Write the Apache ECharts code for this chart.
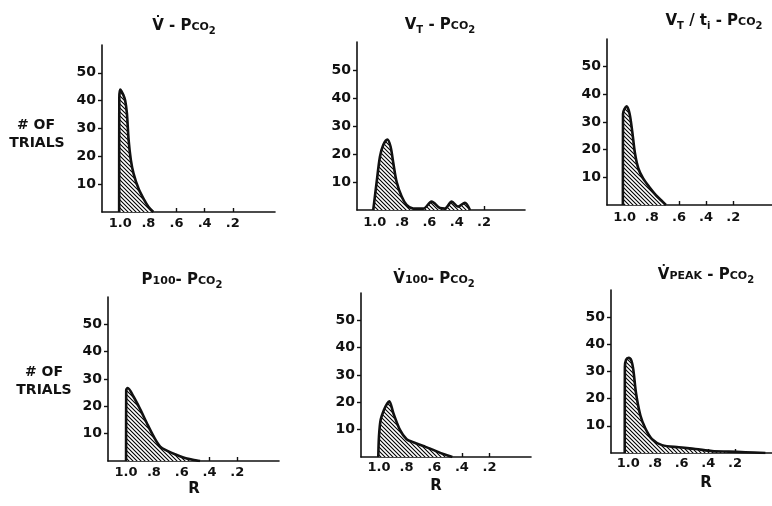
<!DOCTYPE html>
<html><head><meta charset="utf-8">
<script src="https://cdn.jsdelivr.net/npm/echarts@6/dist/echarts.min.js"></script>
<style>html,body{margin:0;padding:0;background:#fff}#c{width:772px;height:506px}</style>
</head><body><div id="c"></div>
<script>
// ---- data ----
const xTicks = [1.0, 0.8, 0.6, 0.4, 0.2];
const xTickLabels = ['1.0', '.8', '.6', '.4', '.2'];
const yTicks = [10, 20, 30, 40, 50];

// Panel titles (rich-text markup)
const titles = [
  '{a|V\u0307 - P}{s|CO}{u|2}',
  '{a|V}{u|T}{a| - P}{s|CO}{u|2}',
  '{a|V}{u|T}{a| / t}{u|i}{a| - P}{s|CO}{u|2}',
  '{a|P}{s|100}{a|- P}{s|CO}{u|2}',
  '{a|V\u0307}{s|100}{a|- P}{s|CO}{u|2}',
  '{a|V\u0307}{s|PEAK}{a| - P}{s|CO}{u|2}'
];
const yName = ['# OF', 'TRIALS'];
const xName = 'R';

// R values and # of trials for each panel
const r1 = [1.008, 1.007, 1.0, 0.993, 0.978, 0.965, 0.953, 0.941, 0.925, 0.906, 0.871, 0.836, 0.80, 0.765];
const n1 = [0, 41, 44, 43.5, 42, 40, 35.5, 26, 18.7, 13.9, 8.5, 4.9, 1.9, 0];

const r2 = [1.011, 0.986, 0.962, 0.938, 0.908, 0.884, 0.864, 0.84, 0.803, 0.767, 0.718, 0.645, 0.584, 0.523, 0.486, 0.437, 0.389, 0.34, 0.303];
const n2 = [0, 10, 19, 23.2, 25.2, 22.6, 16.7, 10.1, 4.8, 1.8, 0.5, 0.5, 3, 0.7, 0.5, 3, 1.2, 2.6, 0];

const r3 = [1.013, 1.012, 0.986, 0.964, 0.944, 0.924, 0.899, 0.864, 0.82, 0.77, 0.733, 0.696];
const n3 = [0, 33, 35.7, 33.1, 26.5, 18.7, 13.2, 9.6, 6.6, 3.6, 1.8, 0];

const r4 = [1.0, 0.999, 0.988, 0.947, 0.899, 0.851, 0.804, 0.755, 0.707, 0.635, 0.563, 0.491, 0.468];
const n4 = [0, 25.9, 26.7, 23.6, 19, 13.9, 9.2, 5.3, 3.8, 2.2, 0.9, 0.2, 0];

const r5 = [1.005, 1.0, 0.988, 0.964, 0.94, 0.925, 0.897, 0.848, 0.80, 0.752, 0.679, 0.607, 0.535, 0.469];
const n5 = [0, 7.4, 13.5, 17.2, 19.6, 20.4, 16.2, 9.9, 6.5, 5.4, 4, 2.6, 1.1, 0];

const r6 = [1.027, 1.026, 1.017, 0.997, 0.977, 0.962, 0.942, 0.91, 0.872, 0.822, 0.747, 0.622, 0.497, 0.372, 0.247, 0.122, -0.028];
const n6 = [0, 31.6, 34.3, 35, 34, 30.4, 21.9, 13.9, 9, 5.1, 2.9, 2.1, 1.5, 0.7, 0.5, 0.3, 0];

const panelsR = [r1, r2, r3, r4, r5, r6];
const panelsN = [n1, n2, n3, n4, n5, n6];

// ---- layout / style ----
const grids = [
  {left: 102, top: 45, width: 173, height: 167},
  {left: 357, top: 42, width: 168, height: 168},
  {left: 607, top: 39, width: 167, height: 166},
  {left: 108, top: 297, width: 171, height: 164},
  {left: 361, top: 293, width: 170, height: 164},
  {left: 611, top: 290, width: 164, height: 163}
];
const labelMargin = [5, 6, 6, 5, 4, 4];
const titlePos = [[184, 26], [440, 25], [714, 21], [182, 280], [434, 279], [706, 275]];
const rPos = [[194, 489], [436, 486], [706, 483]];
const ink = '#111';
const FONT = 'DejaVu Sans';

// diagonal hatch pattern
const pc = document.createElement('canvas');
pc.width = 4; pc.height = 4;
const g = pc.getContext('2d');
g.fillStyle = '#fff'; g.fillRect(0, 0, 4, 4);
g.strokeStyle = '#000'; g.lineWidth = 1.1;
g.beginPath();
g.moveTo(-1, -1); g.lineTo(5, 5);
g.moveTo(3, -1); g.lineTo(5, 1);
g.moveTo(-1, 3); g.lineTo(1, 5);
g.stroke();
const hatch = {image: pc, repeat: 'repeat'};

const richStyles = {
  a: {fontSize: 15, fontFamily: FONT, fontWeight: 'bold', color: ink},
  s: {fontSize: 11, fontFamily: FONT, fontWeight: 'bold', color: ink, padding: [3, 0, 0, 0]},
  u: {fontSize: 10, fontFamily: FONT, fontWeight: 'bold', color: ink, padding: [10, 0, 0, 0]}
};
const txt = (text, x, y, size) => ({type: 'text', x, y,
  style: {text, font: 'bold ' + size + 'px "DejaVu Sans"', fill: ink, align: 'center', verticalAlign: 'middle'}});

const option = {
  backgroundColor: '#fff',
  animation: false,
  grid: grids.map(gd => Object.assign({outerBoundsMode: 'none', containLabel: false}, gd)),
  xAxis: grids.map((gd, i) => ({
    gridIndex: i, type: 'value', min: -0.1, max: 1.13, inverse: true,
    axisLine: {show: true, onZero: false, lineStyle: {color: ink, width: 1.6}},
    axisTick: {show: true, inside: true, length: 4, customValues: xTicks, lineStyle: {color: ink, width: 1.4}},
    axisLabel: {show: true, customValues: xTicks, margin: labelMargin[i], color: ink, fontFamily: FONT, fontWeight: 'bold', fontSize: 13,
      formatter: v => xTickLabels[xTicks.indexOf(v)]},
    splitLine: {show: false}
  })),
  yAxis: grids.map((gd, i) => ({
    gridIndex: i, type: 'value', min: 0, max: 60, position: 'left',
    axisLine: {show: true, onZero: false, lineStyle: {color: ink, width: 1.6}},
    axisTick: {show: true, inside: false, length: 4, customValues: yTicks, lineStyle: {color: ink, width: 1.4}},
    axisLabel: {show: true, customValues: yTicks, margin: 6, color: ink, fontFamily: FONT, fontWeight: 'bold', fontSize: 14},
    splitLine: {show: false}
  })),
  series: panelsR.map((r, i) => ({
    type: 'line', xAxisIndex: i, yAxisIndex: i,
    data: r.map((v, j) => [v, panelsN[i][j]]),
    smooth: 0.3, showSymbol: false, silent: true,
    lineStyle: {color: ink, width: 2.6},
    areaStyle: {color: hatch, opacity: 1}
  })),
  graphic: [
    ...titles.map((t, i) => ({
      type: 'text', x: titlePos[i][0], y: titlePos[i][1],
      style: {text: t, rich: richStyles, align: 'center', verticalAlign: 'middle', fill: ink}
    })),
    txt(yName[0], 36, 125, 14),
    txt(yName[1], 37, 143, 14),
    txt(yName[0], 44, 372, 14),
    txt(yName[1], 44, 390, 14),
    ...rPos.map(p => txt(xName, p[0], p[1], 15))
  ]
};
const chart = echarts.init(document.getElementById('c'), null, {renderer: 'canvas'});
chart.setOption(option);
</script>
</body></html>
